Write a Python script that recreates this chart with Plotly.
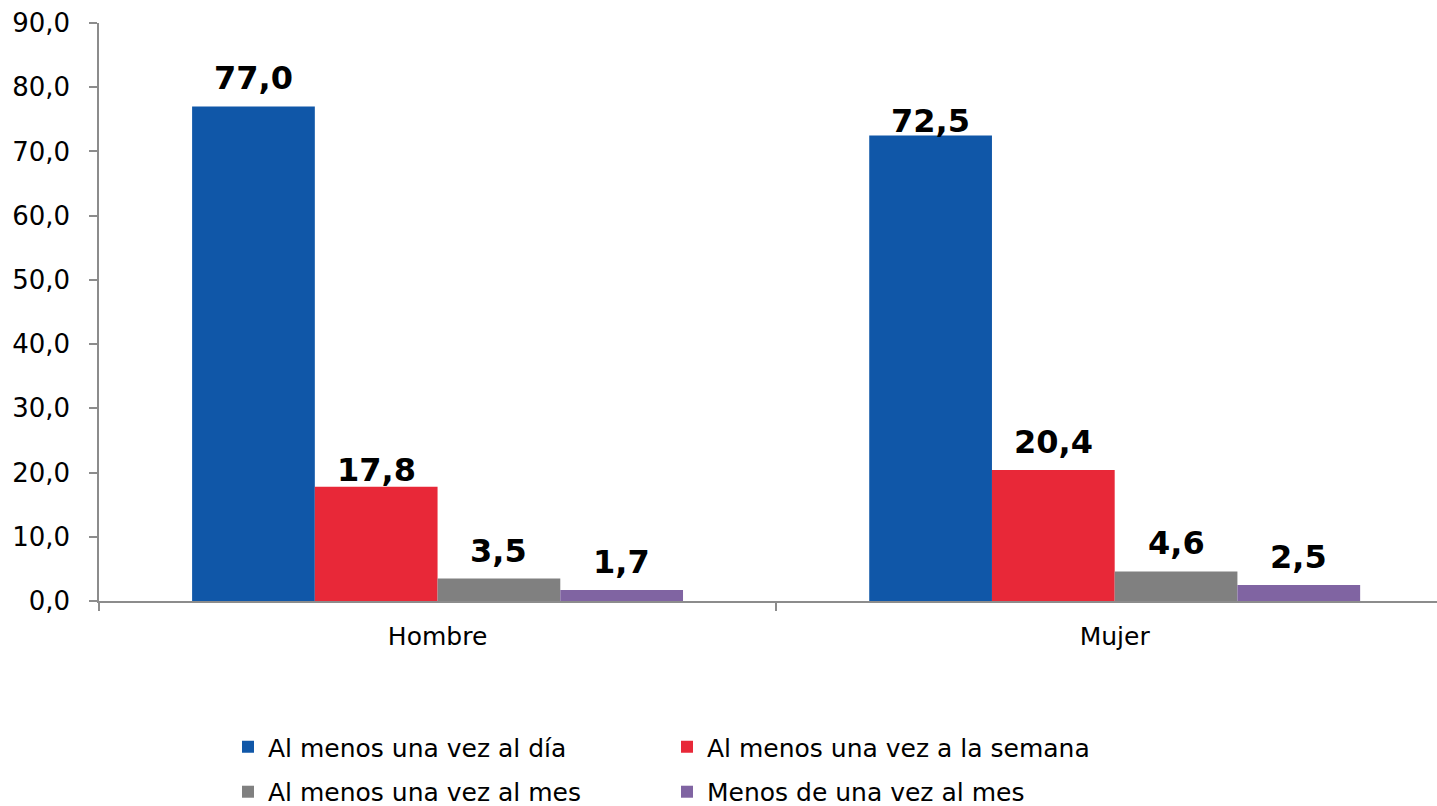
import plotly.graph_objects as go

# Frecuencia por sexo (%)
categorias = ["Hombre", "Mujer"]
series = [
    "Al menos una vez al día",
    "Al menos una vez a la semana",
    "Al menos una vez al mes",
    "Menos de una vez al mes",
]
al_dia = [77.0, 72.5]
a_la_semana = [17.8, 20.4]
al_mes = [3.5, 4.6]
menos_mes = [1.7, 2.5]
valores = [al_dia, a_la_semana, al_mes, menos_mes]

colores = ["#1057A8", "#E82838", "#808080", "#8064A2"]

# extra vertical lift of each value label above its bar (px)
desplazamiento = {
    (0, 0): 7, (0, 1): -7,
    (1, 0): -4, (1, 1): 7,
    (2, 0): 7, (2, 1): 7,
    (3, 0): 7, (3, 1): 7,
}

FONT = "Verdana, DejaVu Sans, sans-serif"
BARGAP = 0.275

fig = go.Figure()
nombres_leyenda = ["legend", "legend2", "legend3", "legend4"]
for i, (nombre, vals) in enumerate(zip(series, valores)):
    fig.add_trace(go.Bar(
        name=nombre, x=categorias, y=vals,
        marker=dict(color=colores[i], line=dict(width=0)),
        legend=nombres_leyenda[i], showlegend=True,
    ))

# value labels centred on each grouped bar
ancho = (1 - BARGAP) / len(series)
anotaciones = []
for i, vals in enumerate(valores):
    for j, v in enumerate(vals):
        xc = j - (1 - BARGAP) / 2 + (i + 0.5) * ancho
        anotaciones.append(dict(
            x=xc, y=v, xref="x", yref="y",
            text=f"<b>{v:.1f}</b>".replace(".", ","),
            showarrow=False, yanchor="bottom", xanchor="center",
            yshift=desplazamiento[(i, j)],
            font=dict(family=FONT, size=32, color="black"),
        ))

eje = dict(showline=True, linecolor="#8C8C8C", linewidth=1.5,
           ticks="outside", ticklen=8, tickcolor="#8C8C8C", tickwidth=1.5,
           showgrid=False, zeroline=False,
           tickfont=dict(family=FONT, size=26, color="black"))

# legend laid out as a 2 x 2 grid, one box per entry
columnas = [0.0964, 0.4245]
filas = [-0.2526, -0.3304]
leyendas = {}
for k, nombre in enumerate(nombres_leyenda):
    leyendas[nombre] = dict(
        orientation="h", x=columnas[k % 2], xanchor="left",
        y=filas[k // 2], yanchor="middle", bgcolor="rgba(0,0,0,0)",
        font=dict(family=FONT, size=25, color="black"),
    )

fig.update_layout(
    width=1437, height=806,
    margin=dict(l=99, r=0, t=23, b=205, autoexpand=False),
    paper_bgcolor="white", plot_bgcolor="white",
    barmode="group", bargap=BARGAP, bargroupgap=0,
    separators=", ", showlegend=True,
    font=dict(family=FONT, size=26, color="black"),
    annotations=anotaciones,
    xaxis=dict(eje, type="category", tickson="boundaries",
               range=[-0.5, 1.476], ticklabelstandoff=12,
               tickfont=dict(family=FONT, size=25, color="black")),
    yaxis=dict(eje, range=[0, 90], dtick=10, tickformat=".1f",
               ticklabelstandoff=14),
    **leyendas,
)

fig.write_html("out.html")
